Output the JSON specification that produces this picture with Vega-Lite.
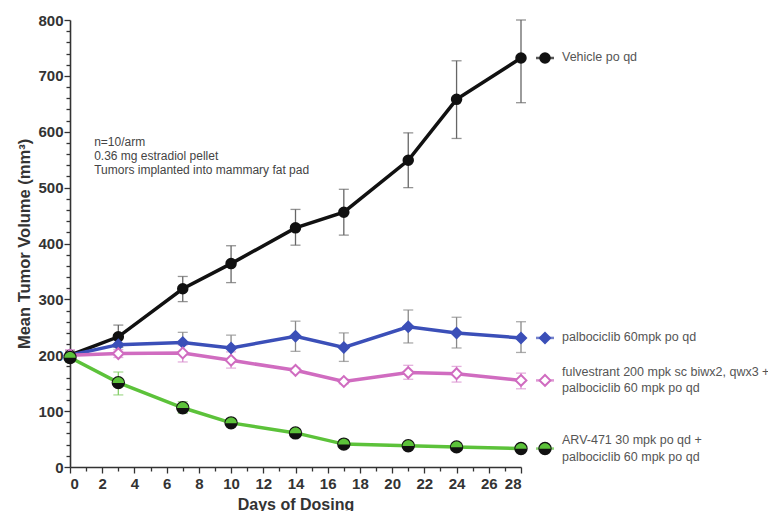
{
  "$schema": "https://vega.github.io/schema/vega-lite/v6.json",
  "autosize": {"type": "none"},
  "width": 451,
  "height": 447,
  "padding": {"left": 70, "top": 20, "right": 247, "bottom": 44},
  "background": "white",
  "config": {"view": {"stroke": null}, "axis": {"grid": false}},
  "datasets": {
    "tumor": [
      {"series": "Vehicle", "day": 0, "mean": 200, "lo": 195, "hi": 205},
      {"series": "Vehicle", "day": 3, "mean": 233, "lo": 214, "hi": 254},
      {"series": "Vehicle", "day": 7, "mean": 319, "lo": 296, "hi": 341},
      {"series": "Vehicle", "day": 10, "mean": 364, "lo": 330, "hi": 396},
      {"series": "Vehicle", "day": 14, "mean": 428, "lo": 397, "hi": 461},
      {"series": "Vehicle", "day": 17, "mean": 456, "lo": 415, "hi": 497},
      {"series": "Vehicle", "day": 21, "mean": 549, "lo": 500, "hi": 598},
      {"series": "Vehicle", "day": 24, "mean": 658, "lo": 588, "hi": 727},
      {"series": "Vehicle", "day": 28, "mean": 732, "lo": 652, "hi": 800},
      {"series": "Palbo", "day": 0, "mean": 200, "lo": 192, "hi": 208},
      {"series": "Palbo", "day": 3, "mean": 219, "lo": 204, "hi": 236},
      {"series": "Palbo", "day": 7, "mean": 223, "lo": 204, "hi": 241},
      {"series": "Palbo", "day": 10, "mean": 213, "lo": 189, "hi": 236},
      {"series": "Palbo", "day": 14, "mean": 234, "lo": 207, "hi": 261},
      {"series": "Palbo", "day": 17, "mean": 214, "lo": 189, "hi": 240},
      {"series": "Palbo", "day": 21, "mean": 251, "lo": 222, "hi": 281},
      {"series": "Palbo", "day": 24, "mean": 240, "lo": 213, "hi": 268},
      {"series": "Palbo", "day": 28, "mean": 231, "lo": 205, "hi": 260},
      {"series": "Fulv", "day": 0, "mean": 200, "lo": 190, "hi": 210},
      {"series": "Fulv", "day": 3, "mean": 203, "lo": 196, "hi": 210},
      {"series": "Fulv", "day": 7, "mean": 204, "lo": 188, "hi": 218},
      {"series": "Fulv", "day": 10, "mean": 191, "lo": 177, "hi": 206},
      {"series": "Fulv", "day": 14, "mean": 173, "lo": 169, "hi": 177},
      {"series": "Fulv", "day": 17, "mean": 153, "lo": 149, "hi": 157},
      {"series": "Fulv", "day": 21, "mean": 169, "lo": 157, "hi": 182},
      {"series": "Fulv", "day": 24, "mean": 167, "lo": 152, "hi": 180},
      {"series": "Fulv", "day": 28, "mean": 155, "lo": 140, "hi": 168},
      {"series": "ARV", "day": 0, "mean": 196, "lo": 188, "hi": 203},
      {"series": "ARV", "day": 3, "mean": 151, "lo": 129, "hi": 170},
      {"series": "ARV", "day": 7, "mean": 106, "lo": 96, "hi": 117},
      {"series": "ARV", "day": 10, "mean": 79, "lo": 76, "hi": 82},
      {"series": "ARV", "day": 14, "mean": 61, "lo": 58, "hi": 64},
      {"series": "ARV", "day": 17, "mean": 41, "lo": 38, "hi": 44},
      {"series": "ARV", "day": 21, "mean": 38, "lo": 35, "hi": 41},
      {"series": "ARV", "day": 24, "mean": 36, "lo": 33, "hi": 39},
      {"series": "ARV", "day": 28, "mean": 33, "lo": 30, "hi": 36}
    ],
    "labels": [
      {"series": "Vehicle", "label": "Vehicle po qd"},
      {"series": "Palbo", "label": "palbociclib 60mpk po qd"},
      {"series": "Fulv", "label": "fulvestrant 200 mpk sc biwx2, qwx3 +\npalbociclib 60 mpk po qd"},
      {"series": "ARV", "label": "ARV-471 30 mpk po qd +\npalbociclib 60 mpk po qd"}
    ],
    "note": [
      {"day": 1.5, "mean": 581, "note": "n=10/arm\n0.36 mg estradiol pellet\nTumors implanted into mammary fat pad"}
    ]
  },
  "data": {"name": "tumor"},
  "encoding": {
    "x": {
      "field": "day", "type": "quantitative",
      "scale": {"domain": [0, 28], "nice": false, "zero": false},
      "axis": {
        "title": "Days of Dosing",
        "values": [0,1,2,3,4,5,6,7,8,9,10,11,12,13,14,15,16,17,18,19,20,21,22,23,24,25,26,27,28],
        "labelExpr": "datum.value % 2 === 0 ? datum.label : ''",
        "labelOverlap": false,
        "labelFont": "Liberation Sans", "labelFontSize": 15, "labelFontWeight": "bold", "labelColor": "#333",
        "labelPadding": 3,
        "tickSize": {"condition": {"test": "datum.value % 2 === 0", "value": 6}, "value": 4},
        "tickColor": "#333", "tickWidth": 1.3,
        "domainColor": "#333", "domainWidth": 1.6,
        "titleFont": "Liberation Sans", "titleFontSize": 16, "titleFontWeight": "bold", "titleColor": "#333",
        "titlePadding": 5
      }
    },
    "y": {
      "field": "mean", "type": "quantitative",
      "scale": {"domain": [0, 800], "nice": false},
      "axis": {
        "title": "Mean Tumor Volume (mm³)",
        "values": [0,20,40,60,80,100,120,140,160,180,200,220,240,260,280,300,320,340,360,380,400,420,440,460,480,500,520,540,560,580,600,620,640,660,680,700,720,740,760,780,800],
        "labelExpr": "datum.value % 100 === 0 ? datum.label : ''",
        "labelOverlap": false,
        "labelFont": "Liberation Sans", "labelFontSize": 15, "labelFontWeight": "bold", "labelColor": "#333",
        "labelPadding": 1,
        "tickSize": {"condition": {"test": "datum.value % 100 === 0", "value": 6}, "value": 4},
        "tickColor": "#333", "tickWidth": 1.3,
        "domainColor": "#333", "domainWidth": 1.6,
        "titleFont": "Liberation Sans", "titleFontSize": 16.5, "titleFontWeight": "bold", "titleColor": "#333",
        "titlePadding": 5
      }
    }
  },
  "layer": [
    {
      "mark": {"type": "errorbar", "ticks": {"size": 10, "thickness": 1.3}, "thickness": 1.3},
      "encoding": {
        "y": {"field": "lo", "type": "quantitative"},
        "y2": {"field": "hi"},
        "color": {"field": "series", "type": "nominal", "legend": null,
          "scale": {"domain": ["Vehicle", "Palbo", "Fulv", "ARV"], "range": ["#666666", "#888888", "#d98fcf", "#86cf6a"]}}
      }
    },
    {
      "mark": {"type": "line", "strokeWidth": 3.5},
      "encoding": {
        "color": {"field": "series", "type": "nominal", "legend": null,
          "scale": {"domain": ["Vehicle", "Palbo", "Fulv", "ARV"], "range": ["#111111", "#3b4fb8", "#d06cc0", "#5cc23a"]}},
        "strokeWidth": {"field": "series", "type": "nominal", "legend": null,
          "scale": {"domain": ["Vehicle", "Palbo", "Fulv", "ARV"], "range": [3, 4, 4, 5]}}
      }
    },
    {
      "mark": {"type": "point", "filled": true, "opacity": 1, "strokeWidth": 2},
      "encoding": {
        "shape": {"field": "series", "type": "nominal", "legend": null,
          "scale": {"domain": ["Vehicle", "Palbo", "Fulv", "ARV"], "range": ["circle", "diamond", "diamond", "circle"]}},
        "fill": {"field": "series", "type": "nominal", "legend": null,
          "scale": {"domain": ["Vehicle", "Palbo", "Fulv", "ARV"], "range": ["#111111", "#3b4fb8", "#ffffff", "#111111"]}},
        "stroke": {"field": "series", "type": "nominal", "legend": null,
          "scale": {"domain": ["Vehicle", "Palbo", "Fulv", "ARV"], "range": ["#111111", "#3b4fb8", "#d06cc0", "#111111"]}},
        "size": {"field": "series", "type": "nominal", "legend": null,
          "scale": {"domain": ["Vehicle", "Palbo", "Fulv", "ARV"], "range": [90, 130, 90, 130]}}
      }
    },
    {
      "transform": [{"filter": "datum.series === 'ARV'"}],
      "mark": {"type": "point", "filled": true, "opacity": 1, "fill": "#5cc23a", "size": 130, "shape": "M-1,0.05 A1,1 0 0 1 1,0.05 Z"}
    },
    {
      "transform": [{"filter": "datum.day === 28"}],
      "mark": {"type": "tick", "orient": "horizontal", "xOffset": 24, "size": 18, "thickness": 2.5},
      "encoding": {
        "color": {"field": "series", "type": "nominal", "legend": null,
          "scale": {"domain": ["Vehicle", "Palbo", "Fulv", "ARV"], "range": ["#111111", "#3b4fb8", "#d06cc0", "#5cc23a"]}}
      }
    },
    {
      "transform": [{"filter": "datum.day === 28"}],
      "mark": {"type": "point", "filled": true, "opacity": 1, "strokeWidth": 2, "xOffset": 24},
      "encoding": {
        "shape": {"field": "series", "type": "nominal", "legend": null},
        "fill": {"field": "series", "type": "nominal", "legend": null},
        "stroke": {"field": "series", "type": "nominal", "legend": null},
        "size": {"field": "series", "type": "nominal", "legend": null}
      }
    },
    {
      "transform": [{"filter": "datum.series === 'ARV' && datum.day === 28"}],
      "mark": {"type": "point", "filled": true, "opacity": 1, "fill": "#5cc23a", "size": 130, "xOffset": 24, "shape": "M-1,0.05 A1,1 0 0 1 1,0.05 Z"}
    },
    {
      "transform": [
        {"filter": "datum.day === 28 && (datum.series === 'Vehicle' || datum.series === 'Palbo')"},
        {"lookup": "series", "from": {"data": {"name": "labels"}, "key": "series", "fields": ["label"]}}
      ],
      "mark": {"type": "text", "align": "left", "baseline": "middle", "xOffset": 41, "yOffset": -1, "font": "Liberation Sans", "fontSize": 12.5, "fill": "#555"},
      "encoding": {
        "text": {"field": "label", "type": "nominal"}
      }
    },
    {
      "transform": [
        {"filter": "datum.day === 28 && (datum.series === 'Fulv' || datum.series === 'ARV')"},
        {"lookup": "series", "from": {"data": {"name": "labels"}, "key": "series", "fields": ["label"]}}
      ],
      "mark": {"type": "text", "align": "left", "baseline": "middle", "xOffset": 41, "yOffset": -8.5, "lineBreak": "\n", "lineHeight": 16.5, "font": "Liberation Sans", "fontSize": 12.5, "fill": "#555"},
      "encoding": {
        "text": {"field": "label", "type": "nominal"}
      }
    },
    {
      "data": {"name": "note"},
      "mark": {"type": "text", "align": "left", "baseline": "middle", "lineBreak": "\n", "lineHeight": 13.8, "font": "Liberation Sans", "fontSize": 12, "fill": "#444"},
      "encoding": {
        "text": {"field": "note", "type": "nominal"}
      }
    }
  ],
  "resolve": {"scale": {"color": "independent"}}
}
